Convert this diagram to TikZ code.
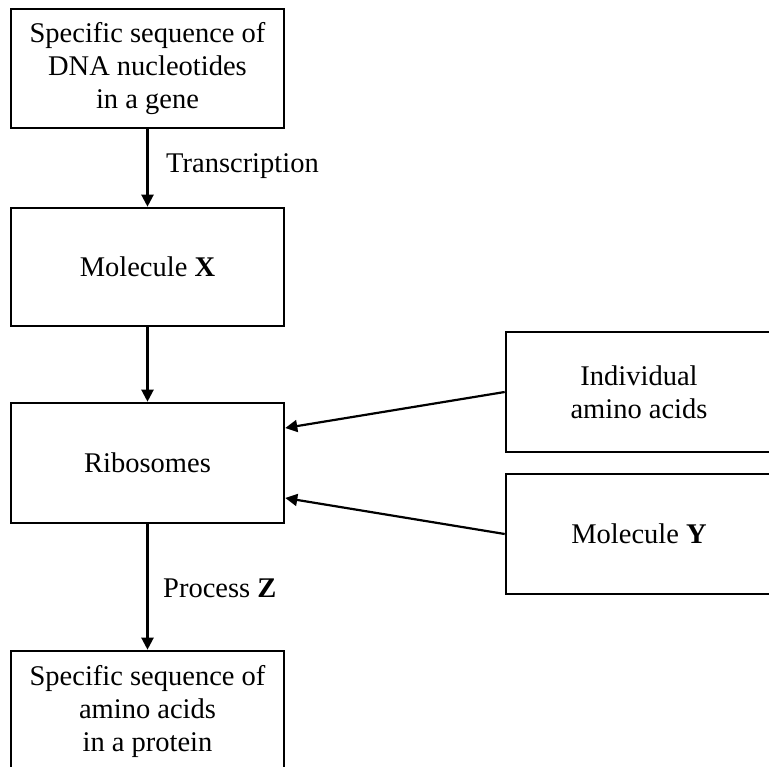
\documentclass[tikz,border=0pt]{standalone}
\usepackage{fontspec}
\setmainfont{Liberation Serif}
\usetikzlibrary{arrows.meta}
\begin{document}
\begin{tikzpicture}[x=1pt,y=-1pt,
  box/.style={draw=black, line width=2.6pt, align=center, inner sep=0pt,
    font=\fontsize{28.5}{33}\selectfont},
  lbl/.style={inner sep=0pt, anchor=west, font=\fontsize{28.5}{33}\selectfont},
  conn/.style={line width=2.2pt, -{Triangle[length=12pt,width=12pt]}}]
\begin{scope}
\clip (0,0) rectangle (769,767);
\node[box, minimum width=273pt, minimum height=119pt] (dna) at (147.5,68.5)
  {Specific sequence of\\DNA nucleotides\\in a gene};
\node[box, minimum width=273pt, minimum height=118pt] (mx) at (147.5,267)
  {Molecule \textbf{X}};
\node[box, minimum width=273pt, minimum height=120pt] (rib) at (147.5,463)
  {Ribosomes};
\node[box, minimum width=273pt, minimum height=120pt] (prot) at (147.5,711)
  {Specific sequence of\\amino acids\\in a protein};
\node[box, minimum width=266pt, minimum height=120pt] (aa) at (639,392)
  {Individual\\amino acids};
\node[box, minimum width=266pt, minimum height=120pt] (my) at (639,534)
  {Molecule \textbf{Y}};
\coordinate (r1) at ([yshift=35pt]rib.east);
\coordinate (r2) at ([yshift=-35pt]rib.east);
\draw[conn] (dna.south) -- (mx.north);
\draw[conn] (mx.south) -- (rib.north);
\draw[conn] (rib.south) -- (prot.north);
\draw[conn] (aa.west) -- (r1);
\draw[conn] (my.west) -- (r2);
\node[lbl] (tr) at (166,166) {Transcription};
\node[lbl] (pz) at (163,588) {Process \textbf{Z}};
\end{scope}
\useasboundingbox (0,0) rectangle (769,767);
\end{tikzpicture}
\end{document}
